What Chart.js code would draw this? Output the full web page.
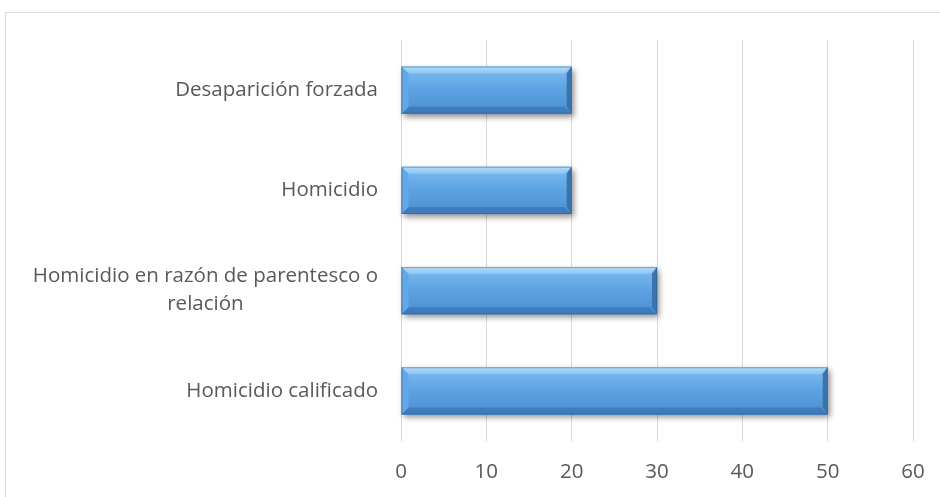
<!DOCTYPE html>
<html><head><meta charset="utf-8">
<script src="https://cdn.jsdelivr.net/npm/chart.js@4.4.1/dist/chart.umd.min.js"></script>
<style>html,body{margin:0;padding:0;background:#fff;}#wrap{width:940px;height:497px;position:relative;}</style>
</head><body><div id="wrap"><canvas id="c" width="940" height="497"></canvas></div>
<script>
const categories = ["Desaparición forzada", "Homicidio", ["Homicidio en razón de parentesco o", "relación"], "Homicidio calificado"];
const values = [20, 20, 30, 50];
const xTicks = [0, 10, 20, 30, 40, 50, 60];

const FONT = '"Open Sans", sans-serif';
const FSIZE = 20.5;
const TXT = '#595959';

const frame = {
  id: 'frame',
  beforeDraw(chart) {
    const ctx = chart.ctx;
    ctx.save();
    ctx.strokeStyle = '#d9d9d9';
    ctx.lineWidth = 1;
    ctx.strokeRect(5.5, 12.5, 960, 520);
    ctx.restore();
  }
};

const catLabels = {
  id: 'catLabels',
  afterDraw(chart) {
    const ctx = chart.ctx;
    const ys = chart.scales.y;
    const rightEdge = ys.right - 23;
    const lh = 28;
    ctx.save();
    ctx.font = FSIZE + 'px ' + FONT;
    ctx.fillStyle = TXT;
    ctx.textAlign = 'center';
    ctx.textBaseline = 'middle';
    chart.data.labels.forEach((lab, i) => {
      const lines = Array.isArray(lab) ? lab : [lab];
      const maxW = Math.max(...lines.map(l => ctx.measureText(l).width));
      const cx = rightEdge - maxW / 2;
      const cy = ys.getPixelForTick(i);
      const y0 = cy - (lines.length - 1) * lh / 2;
      lines.forEach((l, k) => ctx.fillText(l, cx, y0 + k * lh));
    });
    ctx.restore();
  }
};

const bevel = {
  id: 'bevel',
  afterDatasetsDraw(chart) {
    const ctx = chart.ctx;
    const meta = chart.getDatasetMeta(0);
    meta.data.forEach(bar => {
      const x0 = Math.min(bar.base, bar.x), x1 = Math.max(bar.base, bar.x);
      const y0 = bar.y - bar.height / 2, y1 = bar.y + bar.height / 2;
      const w = x1 - x0, h = y1 - y0;
      ctx.save();
      ctx.shadowColor = 'rgba(0,0,0,0.45)';
      ctx.shadowBlur = 6;
      ctx.shadowOffsetX = 2;
      ctx.shadowOffsetY = 3;
      ctx.fillStyle = '#4f92d4';
      ctx.fillRect(x0, y0, w, h);
      ctx.restore();
      ctx.save();
      const g = ctx.createLinearGradient(0, y0, 0, y1);
      g.addColorStop(0, '#7fbcef');
      g.addColorStop(0.5, '#5ca2e3');
      g.addColorStop(1, '#4d8fd0');
      ctx.fillStyle = g;
      ctx.fillRect(x0, y0, w, h);
      const b = 7;
      const gt = ctx.createLinearGradient(0, y0, 0, y0 + b);
      gt.addColorStop(0, '#b3dcfa');
      gt.addColorStop(1, '#8ac5f2');
      ctx.fillStyle = gt;
      ctx.beginPath();
      ctx.moveTo(x0, y0); ctx.lineTo(x1, y0); ctx.lineTo(x1 - b, y0 + b); ctx.lineTo(x0 + b, y0 + b); ctx.closePath();
      ctx.fill();
      ctx.fillStyle = '#3e7cbd';
      ctx.beginPath();
      ctx.moveTo(x0, y1); ctx.lineTo(x1, y1); ctx.lineTo(x1 - b, y1 - b); ctx.lineTo(x0 + b, y1 - b); ctx.closePath();
      ctx.fill();
      ctx.fillStyle = '#62a7e7';
      ctx.beginPath();
      ctx.moveTo(x0, y0); ctx.lineTo(x0 + b, y0 + b); ctx.lineTo(x0 + b, y1 - b); ctx.lineTo(x0, y1); ctx.closePath();
      ctx.fill();
      ctx.fillStyle = '#3a73ad';
      ctx.beginPath();
      ctx.moveTo(x1, y0); ctx.lineTo(x1 - b + 2, y0 + b); ctx.lineTo(x1 - b + 2, y1 - b); ctx.lineTo(x1, y1); ctx.closePath();
      ctx.fill();
      ctx.strokeStyle = 'rgba(40,90,140,0.45)';
      ctx.lineWidth = 1;
      ctx.strokeRect(x0 + 0.5, y0 + 0.5, w - 1, h - 1);
      ctx.restore();
    });
  }
};

new Chart(document.getElementById('c'), {
  type: 'bar',
  data: {
    labels: categories,
    datasets: [{ data: values, backgroundColor: 'rgba(0,0,0,0)', borderWidth: 0, barPercentage: 0.47, categoryPercentage: 1 }]
  },
  options: {
    indexAxis: 'y',
    responsive: false,
    animation: false,
    events: [],
    layout: { padding: { top: 40, right: 27, left: 0, bottom: 0 } },
    plugins: { legend: { display: false }, tooltip: { enabled: false } },
    scales: {
      x: {
        min: 0, max: 60,
        afterBuildTicks(axis) { axis.ticks = xTicks.map(v => ({ value: v })); },
        grid: { color: '#d9d9d9', lineWidth: 1, drawTicks: false },
        border: { display: false },
        ticks: { color: TXT, font: { family: FONT, size: FSIZE }, padding: 19 },
        afterFit(axis) { axis.height = 56; axis.paddingLeft = 0; axis.paddingRight = 0; }
      },
      y: {
        grid: { display: false },
        border: { display: false },
        ticks: { display: false },
        afterFit(axis) { axis.width = 401; }
      }
    }
  },
  plugins: [frame, bevel, catLabels]
});
</script>
</body></html>
